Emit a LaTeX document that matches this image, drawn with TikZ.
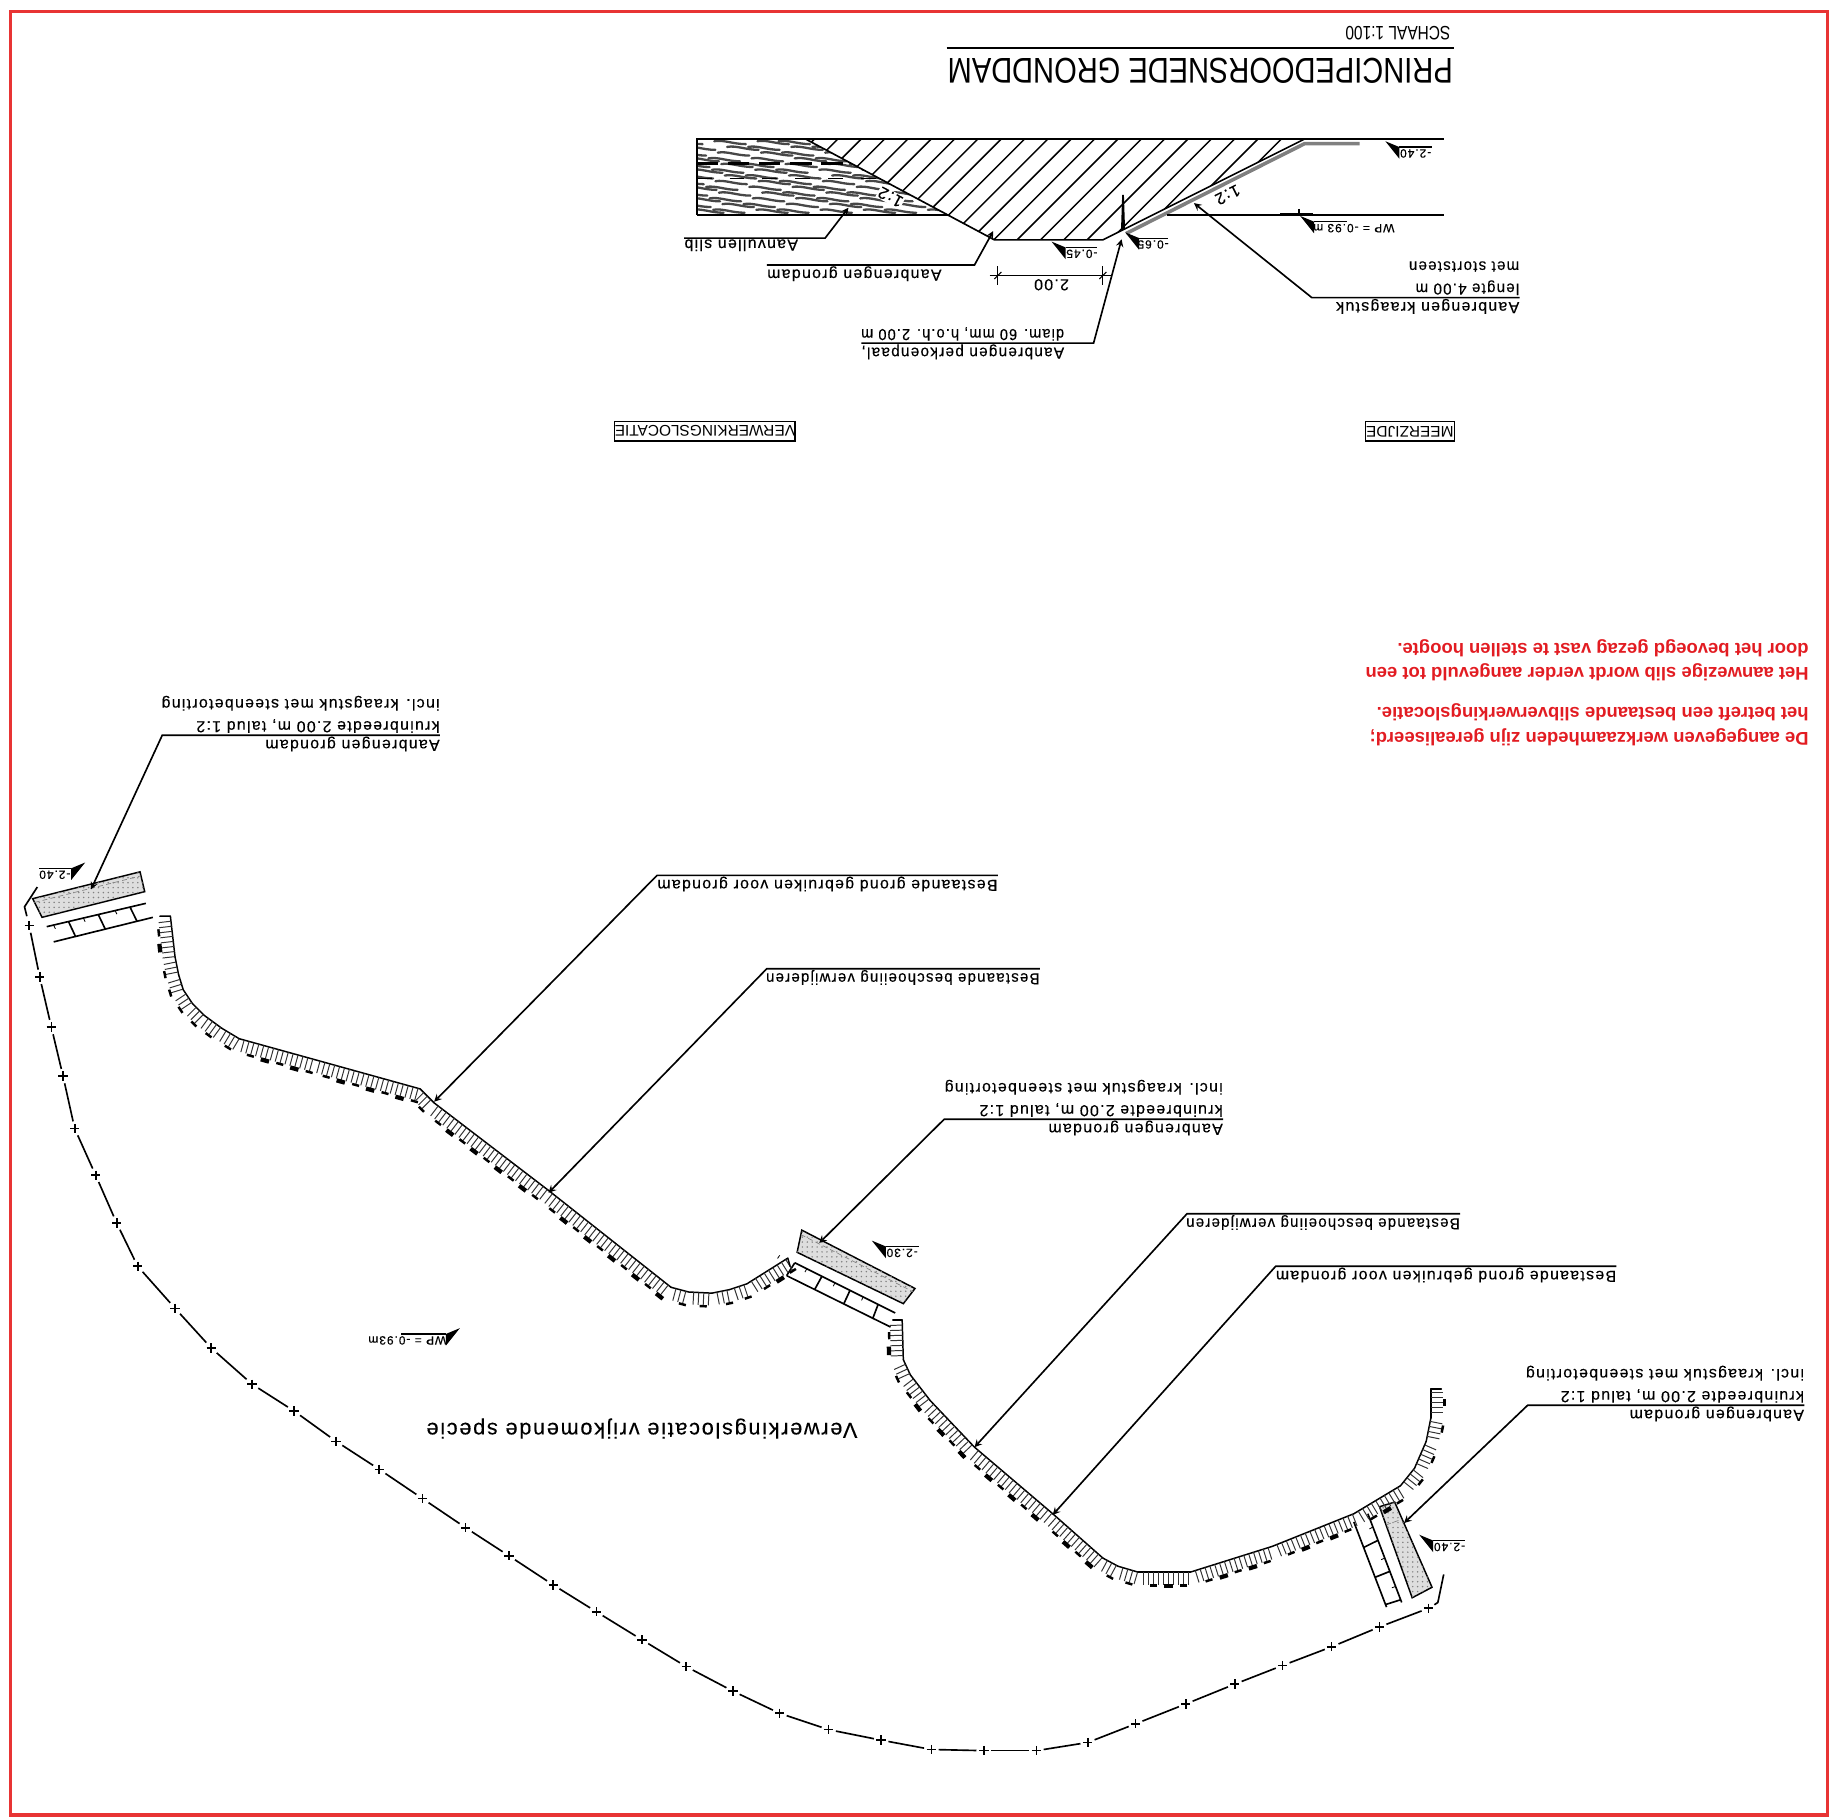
\documentclass[tikz,border=0pt]{standalone}
\usepackage{xcolor}
\usepackage{fontspec}
\setmainfont{Liberation Sans}
\newfontfamily\cadfont[LetterSpace=8,FakeBold=0.25]{Liberation Sans}
\usetikzlibrary{calc, patterns}
\definecolor{framered}{RGB}{232, 52, 52}
\definecolor{notered}{RGB}{226, 28, 34}
\definecolor{bargrey}{RGB}{222, 222, 222}
\newcommand{\cadtext}{\cadfont\fontsize{9.7}{13.5}\selectfont}
\newcommand{\levelfont}{\cadfont\fontsize{7.3}{9}\selectfont}

% level flag: name, tip, side, end of line, centre of text, text
\newcommand{\levelmark}[6]{
    \begin{scope}[shift={(#2)}, xscale=#3]
        \fill (0,0) -- (12,5) -- (12,15) -- cycle;
        \draw[line width=0.7pt] (12,5) -- (#4,5);
        \node[leveltext] (#1) at (#5,10.5) {#6};
    \end{scope}
}
% grout bar and ladder: four corners of the bar, the two ladder lines, places of the rungs
\newcommand{\dampiece}[9]{
    \filldraw[barfill] (#1) -- (#2) -- (#3) -- (#4) -- cycle;
    \draw[line width=0.4pt, gray, densely dashed] ($(#1)!.2!(#4)$) -- ($(#2)!.2!(#3)$);
    \draw[ladderline] (#5) -- (#6) (#7) -- (#8);
    \foreach \t in {#9} {
        \draw[ladderline] ($(#5)!\t!(#6)$) -- ($(#7)!\t!(#8)$);
        \coordinate (rk) at ($(#5)!\t-.15!(#6)$);
        \coordinate (rl) at ($(#7)!\t-.15!(#8)$);
        \draw[line width=0.5pt] (rk) -- ($(rk)!.25!(rl)$);
    }
}
% bank edge: first point, other points; ticks on the right hand, a blob on every third one
\newcommand{\bankline}[2]{
    \coordinate (prev) at (#1);
    \foreach \p in {#2} {
        \draw[bankmain] (prev) -- (\p);
        \path (prev); \pgfgetlastxy{\xa}{\ya}
        \path (\p); \pgfgetlastxy{\xb}{\yb}
        \pgfmathtruncatemacro{\nn}{veclen(\xb-\xa,\yb-\ya)/3.1}
        \pgfmathsetmacro{\ang}{atan2(\yb-\ya,\xb-\xa)}
        \ifnum\nn>0
        \foreach \i in {1,...,\nn} {
            \draw[line width=0.6pt, black!80] (prev) ++(\ang:\i*3.1pt) -- ++(\ang-90:7.6pt);
            \pgfmathtruncatemacro{\mm}{mod(\i,6)}
            \ifnum\mm=0
                \draw[line width=2.6pt] (prev) ++(\ang:\i*3.1pt) ++(\ang-90:8.6pt) +(\ang:2.6pt) -- +(\ang+180:2.6pt);
            \fi
            \ifnum\mm=3
                \draw[line width=1.5pt] (prev) ++(\ang:\i*3.1pt) ++(\ang-90:8.2pt) +(\ang:2.2pt) -- +(\ang+180:2.2pt);
            \fi
        }
        \fi
        \coordinate (prev) at (\p);
    }
}

\begin{document}
\begin{tikzpicture}[
    x=0.25mm,
    y=-0.25mm,
    lbl/.style={rotate=180, anchor=south west, inner xsep=0pt, inner ysep=0.6pt, align=left, font=\cadtext},
    lblnext/.style={rotate=180, anchor=north west, inner xsep=0pt, inner ysep=0.6pt, align=left, font=\cadtext},
    leader/.style={line width=1pt, -stealth},
    leveltext/.style={rotate=180, inner sep=0pt, font=\levelfont},
    slopetext/.style={inner sep=0.5pt, font=\cadfont\fontsize{10}{12}\selectfont},
    capstext/.style={rotate=180, inner sep=0pt, xscale=0.8, font=\fontsize{11.8}{14}\selectfont},
    boxed/.style={rotate=180, draw, line width=0.8pt, minimum width=76*0.25mm, minimum height=12pt, inner sep=0pt, font=\fontsize{9.4}{12}\selectfont},
    rednote/.style={rotate=180, anchor=north west, inner sep=0pt, align=left, text=notered, font=\bfseries\fontsize{11.25}{15}\selectfont},
    barfill/.style={draw=black, fill=bargrey, line width=0.9pt, postaction={pattern=dots, pattern color=gray}},
    ladderline/.style={line width=1pt},
    fence/.style={line width=1pt},
    section/.style={line width=1pt},
    wave/.style={line width=1.4pt, line cap=round, black!72},
    bankmain/.style={line width=0.9pt, line cap=round}
]
    \useasboundingbox (0,0) rectangle (1568,1557.7);
    \draw[framered, line width=2.2pt] (9,10) rectangle (1566,1555);

    % Title
    \node[capstext, xscale=1.015, anchor=base west, font=\fontsize{21.8}{24}\selectfont] (t1) at (1245,50) {PRINCIPEDOORSNEDE GRONDDAM};
    \draw[line width=1.6pt] (811,41) -- (1246,41);
    \node[capstext, anchor=base west] (t2) at (1243,23) {SCHAAL 1:100};

    % Section: silt
    \begin{scope}
        \clip (597,119) -- (690,119) -- (812,184) -- (597,184) -- cycle;
        \foreach \r in {0,...,13} {
            \foreach \c in {0,...,8} {
                \pgfmathsetmacro{\xx}{575+30*\c+mod(\r*11+\c*7,19)}
                \pgfmathsetmacro{\yy}{121+4.9*\r}
                \draw[wave] (\xx,\yy) .. controls (\xx+8,\yy-1.5) and (\xx+16,\yy+2.5) .. (\xx+27,\yy+2.5);
            }
        }
        \draw[line width=1.4pt, dash pattern=on 13pt off 6pt] (597,140) -- (730,140);
        \draw[line width=1.1pt, dash pattern=on 9pt off 11pt] (597,153) -- (770,153);
    \end{scope}
    \node[slopetext, rotate=152, fill=white] (s2) at (763,169) {1:2};

    % Section: dam hatching
    \begin{scope}
        \clip (690,119) -- (1118,119) -- (962,197) -- (945,205.5) -- (852,205.5) -- cycle;
        \foreach \x in {597,617,...,1017} {
            \draw[line width=0.9pt] (\x,220) -- (\x+110,110);
        }
    \end{scope}

    % Section: outlines
    \draw[gray, line width=2.2pt] (965,200) -- (1118,123) -- (1165,123);
    \draw[section] (597,184) -- (597,119) -- (1237,119);
    \draw[section] (597,184) -- (812,184);
    \draw[section] (690,119) -- (852,205.5) -- (945,205.5) -- (962,197) -- (1118,119);
    \draw[section] (1000,184) -- (1237,184);
    \draw[line width=1.6pt] (1097,184) -- (1125,184);
    \draw[line width=0.7pt] (1113,179) -- (1113,184);
    \fill (960.5,197) -- (961.5,167) -- (963,167) -- (964,197) -- cycle;
    \node[slopetext, rotate=207] (s1) at (1052,167) {1:2};

    % Section: levels
    \levelmark{v1}{1187,121}{1}{40}{26}{-2.40}
    \levelmark{v2}{1114,185}{1}{40}{46}{WP = -0.93 m}
    \levelmark{v3}{964,199}{1}{37}{24}{-0.65}
    \levelmark{v4}{901,207}{1}{39}{26}{-0.45}

    % Section: dimension
    \coordinate (d1) at (855,236);
    \coordinate (d2) at (945,236);
    \draw[line width=0.7pt] ($(d1)+(-7,0)$) -- ($(d2)+(7,0)$);
    \draw[line width=0.7pt] ($(d1)+(0,-8)$) -- ($(d1)+(0,8)$) ($(d2)+(0,-8)$) -- ($(d2)+(0,8)$);
    \draw[line width=0.7pt] ($(d1)+(-3,3)$) -- ($(d1)+(3,-3)$) ($(d2)+(-3,3)$) -- ($(d2)+(3,-3)$);
    \node[rotate=180, inner sep=0pt, font=\cadtext] (d3) at (901,244) {2.00};

    % Section: labels
    \node[lbl] (a1) at (684,204) {Aanvullen slib};
    \coordinate (a1e) at (707,204);
    \coordinate (a1t) at (727,178);
    \draw[leader] (a1.south east) -- (a1e) -- (a1t);

    \node[lbl] (a2) at (807,227) {Aanbrengen grondam};
    \coordinate (a2e) at (835,227);
    \coordinate (a2t) at (851,198);
    \draw[leader] (a2.south east) -- (a2e) -- (a2t);

    \node[lbl, xscale=0.965] (a3) at (912,294) {Aanbrengen perkoenpaal,};
    \node[lblnext, xscale=0.91] (a3b) at (912,293) {diam. 60 mm, h.o.h. 2.00 m};
    \coordinate (a3s) at (738,294);
    \coordinate (a3e) at (937,294);
    \coordinate (a3t) at (961,205);
    \draw[leader] (a3s) -- (a3e) -- (a3t);

    \node[lbl] (a4) at (1302,255) {Aanbrengen kraagstuk};
    \node[lblnext, xscale=0.95] (a4b) at (1302,254) {lengte 4.00 m\\met stortsteen};
    \coordinate (a4e) at (1124,255);
    \coordinate (a4t) at (1023,174);
    \draw[leader] (a4.south west) -- (a4e) -- (a4t);

    \node[boxed] (b1) at (1208,369.5) {MEERZIJDE};
    \node[boxed, minimum width=154*0.25mm] (b2) at (604,369.5) {VERWERKINGSLOCATIE};

    % Notes
    \node[rednote] (r1) at (1550,639) {De aangegeven werkzaamheden zijn gerealiseerd;\\het betreft een bestaande slibverwerkingslocatie.};
    \node[rednote] (r2) at (1550,584) {Het aanwezige slib wordt verder aangevuld tot een\\door het bevoegd gezag vast te stellen hoogte.};

    % Plan: dam pieces
    \dampiece{28,770}{120,747}{124,764}{36,786}{40,794}{125,774}{46,807}{131,786}{.22,.52,.84}
    \dampiece{687,1054}{784,1104}{774,1117}{683,1073}{681,1082}{767,1125}{674,1093}{763,1137}{0,.27,.55,.83}
    \dampiece{1182,1291}{1195,1287}{1227,1360}{1210,1369}{1172,1297}{1201,1373}{1160,1304}{1188,1377}{.3,.65,.97}

    % Plan: labels
    \node[lbl] (p1) at (377,630) {Aanbrengen grondam};
    \node[lblnext] (p1b) at (377,629) {kruinbreedte 2.00 m, talud 1:2\\incl. kraagstuk met steenbetorting};
    \coordinate (p1e) at (139,630);
    \coordinate (p1t) at (78,762);
    \draw[leader] (p1.south west) -- (p1e) -- (p1t);

    \node[lbl] (p2) at (855,750) {Bestaande grond gebruiken voor grondam};
    \coordinate (p2e) at (563,750);
    \coordinate (p2t) at (372,944);
    \draw[leader] (p2.south west) -- (p2e) -- (p2t);

    \node[lbl, xscale=0.945] (p3) at (891,830) {Bestaande beschoeiing verwijderen};
    \coordinate (p3e) at (657,830);
    \coordinate (p3t) at (470,1022);
    \draw[leader] (p3.south west) -- (p3e) -- (p3t);

    \node[lbl] (p4) at (1048,959) {Aanbrengen grondam};
    \node[lblnext] (p4b) at (1048,958) {kruinbreedte 2.00 m, talud 1:2\\incl. kraagstuk met steenbetorting};
    \coordinate (p4e) at (809,959);
    \coordinate (p4t) at (702,1065);
    \draw[leader] (p4.south west) -- (p4e) -- (p4t);

    \node[lbl, xscale=0.945] (p5) at (1251,1040) {Bestaande beschoeiing verwijderen};
    \coordinate (p5e) at (1017,1040);
    \coordinate (p5t) at (835,1240);
    \draw[leader] (p5.south west) -- (p5e) -- (p5t);

    \node[lbl] (p6) at (1385,1085) {Bestaande grond gebruiken voor grondam};
    \coordinate (p6e) at (1093,1085);
    \coordinate (p6t) at (902,1298);
    \draw[leader] (p6.south west) -- (p6e) -- (p6t);

    \node[lbl] (p7) at (1546,1204) {Aanbrengen grondam};
    \node[lblnext] (p7b) at (1546,1203) {kruinbreedte 2.00 m, talud 1:2\\incl. kraagstuk met steenbetorting};
    \coordinate (p7e) at (1309,1204);
    \coordinate (p7t) at (1203,1305);
    \draw[leader] (p7.south west) -- (p7e) -- (p7t);

    \node[rotate=180, inner sep=0pt, font=\cadfont\fontsize{13.2}{16}\selectfont] (p8) at (550,1224) {Verwerkingslocatie vrijkomende specie};

    % Plan: levels
    \levelmark{v5}{73,739}{-1}{40}{26}{-2.40}
    \levelmark{v6}{747,1063}{1}{40}{26}{-2.30}
    \levelmark{v7}{1216,1315}{1}{39}{26}{-2.40}
    \levelmark{v8}{394,1138}{-1}{50}{45}{WP = -0.93m}

    % Plan: bank edges
    \bankline{146,785}{{150,820},{153,835},{157,848},{165,860},{175,870},{190,881},{205,890},{270,908},{360,933},{372,945},{470,1020},{575,1103},{590,1107},{610,1108},{625,1105},{640,1100},{675,1078}}
    \draw[bankmain] (137,785) -- (146,785) (675,1078) -- (677,1085);
    \bankline{773,1131}{{774,1165},{780,1178},{797,1200},{835,1240},{902,1297},{945,1335},{958,1342},{975,1347},{1020,1347},{1090,1325},{1160,1297},{1200,1273},{1212,1258},{1222,1235},{1226,1215},{1226,1190}}
    \draw[bankmain] (765,1131) -- (773,1131) (1226,1190) -- (1235,1190);

    % Plan: fence
    \draw[fence] (32,760) -- (21,777) -- (23,785);
    \coordinate (prev) at (25,793);
    \draw[fence] (prev) +(-4,0) -- +(4,0) (prev) +(0,-4) -- +(0,4);
    \foreach \p in {{34,837},{44,880},{54,922},{64,967},{82,1007},{100,1048},{118,1085},{150,1121},{181,1155},{216,1186},{252,1209},{288,1235},{325,1259},{362,1284},{399,1309},{436,1333},{474,1358},{511,1381},{550,1405},{588,1428},{628,1449},{668,1468},{710,1482},{755,1491},{798,1499},{843,1500},{888,1500},{932,1493},{973,1477},{1016,1460},{1058,1443},{1099,1427},{1141,1411},{1182,1394},{1224,1378}} {
        \draw[fence, shorten >=4.5pt, shorten <=4.5pt] (prev) -- (\p);
        \draw[fence] (\p) +(-4,0) -- +(4,0) (\p) +(0,-4) -- +(0,4);
        \coordinate (prev) at (\p);
    }
    \draw[fence] (1229,1375) -- (1232,1373) -- (1237,1349);
\end{tikzpicture}
\end{document}
